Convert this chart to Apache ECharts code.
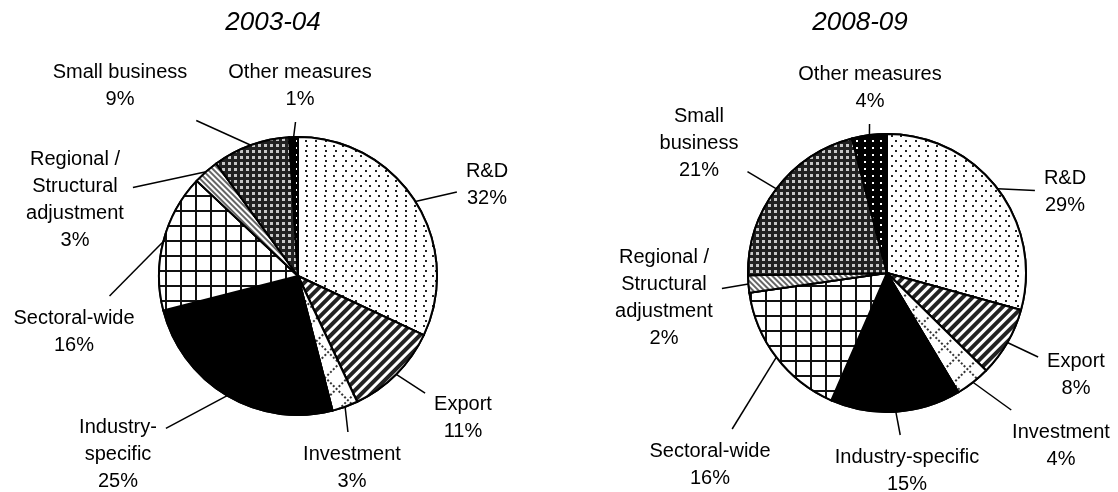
<!DOCTYPE html>
<html>
<head>
<meta charset="utf-8">
<script src="https://cdn.jsdelivr.net/npm/echarts@6/dist/echarts.min.js"></script>
<style>
    html, body { margin: 0; padding: 0; background: #fff; }
    #chart { width: 1118px; height: 492px; }
</style>
</head>
<body>
<div id="chart"></div>
<script>
// 数据
var categories = ['R&D', 'Export', 'Investment', 'Industry-specific', 'Sectoral-wide', 'Regional / Structural adjustment', 'Small business', 'Other measures'];
var years = ['2003-04', '2008-09'];
var values2003 = [32, 11, 3, 25, 16, 3, 9, 1];
var values2008 = [29, 8, 4, 15, 16, 2, 21, 4];
// 标签文字（换行不同）
var labels2003 = ['R&D', 'Export', 'Investment', 'Industry-\nspecific', 'Sectoral-wide', 'Regional /\nStructural\nadjustment', 'Small business', 'Other measures'];
var labels2008 = ['R&D', 'Export', 'Investment', 'Industry-specific', 'Sectoral-wide', 'Regional /\nStructural\nadjustment', 'Small\nbusiness', 'Other measures'];

// 标签位置（像素，中心点）
var labelPos = [
    [[487, 185], [463, 418], [352, 468], [118, 454], [74, 332], [75, 200], [120, 86], [300, 86]]
    , [[1065, 192], [1076, 375], [1061, 446], [907, 471], [710, 465], [664, 298], [699, 143], [870, 88]]
];
var lineGap = 9;

// 填充图案
var decals = [
    { symbol: 'rect', symbolSize: 1, symbolKeepAspect: false, color: '#222', backgroundColor: '#fff', dashArrayX: [[1.5, 7], [0, 4.25, 1.5, 2.75]], dashArrayY: [1.5, 2.5], rotation: 0 }
    , { symbol: 'rect', symbolSize: 1, symbolKeepAspect: false, color: '#222', backgroundColor: '#fff', dashArrayX: [1, 0], dashArrayY: [3.5, 2.5], rotation: -Math.PI / 4 }
    , { symbol: 'rect', symbolSize: 1, symbolKeepAspect: false, color: '#333', backgroundColor: '#fff', dashArrayX: [[1.5, 1.5], [1.5, 13.5], [1.5, 13.5], [1.5, 13.5], [1.5, 13.5]], dashArrayY: [1.5, 1.5], rotation: Math.PI / 4 }
    , { symbol: 'rect', symbolSize: 1, symbolKeepAspect: false, color: '#000', backgroundColor: '#000', dashArrayX: [1, 0], dashArrayY: [1, 0], rotation: 0 }
    , { symbol: 'rect', symbolSize: 1, symbolKeepAspect: false, color: '#111', backgroundColor: '#fff', dashArrayX: [[15, 0], [2, 13]], dashArrayY: [2, 0, 13, 0], rotation: 0 }
    , { symbol: 'rect', symbolSize: 1, symbolKeepAspect: false, color: '#666', backgroundColor: '#fff', dashArrayX: [1, 0], dashArrayY: [1.5, 2], rotation: Math.PI / 4 }
    , { symbol: 'rect', symbolSize: 1, symbolKeepAspect: false, color: '#c8c8c8', backgroundColor: '#222', dashArrayX: [2.2, 2.3], dashArrayY: [2.2, 2.3], rotation: 0 }
    , { symbol: 'rect', symbolSize: 1, symbolKeepAspect: false, color: '#fff', backgroundColor: '#000', dashArrayX: [2, 6], dashArrayY: [2, 5], rotation: 0 }
];

function buildData(values, labels) {
    var data = [];
    for (var i = 0; i < values.length; i++) {
        data.push({
            name: categories[i]
            , value: values[i]
            , labelText: labels[i]
            , itemStyle: { color: decals[i].backgroundColor, decal: decals[i] }
        });
    }
    return data;
}

// 引导线：从扇区外弧中点指向标签中心，在标签外停下
function leaderLine(start, pos, rect) {
    var dx = pos[0] - start[0], dy = pos[1] - start[1];
    var hw = rect.width / 2 + lineGap, hh = rect.height / 2 + lineGap;
    var k = Math.min(dx ? hw / Math.abs(dx) : Infinity, dy ? hh / Math.abs(dy) : Infinity);
    var t = 1 - k;
    if (t <= 0) return null;
    var end = [start[0] + dx * t, start[1] + dy * t];
    return [start, end, end];
}

function pieSeries(idx, center, values, labels) {
    return {
        type: 'pie'
        , center: center
        , radius: 139
        , startAngle: 90
        , clockwise: true
        , avoidLabelOverlap: false
        , silent: true
        , itemStyle: { borderColor: '#000', borderWidth: 2 }
        , label: {
            show: true
            , position: 'outside'
            , color: '#000'
            , fontFamily: 'Liberation Sans, Arial, sans-serif'
            , fontSize: 20
            , lineHeight: 27
            , align: 'center'
            , formatter: function (p) {
                return p.data.labelText + '\n' + p.value + '%';
            }
        }
        , labelLine: {
            show: true
            , length: 10
            , length2: 0
            , smooth: false
            , lineStyle: { color: '#000', width: 1.5 }
        }
        , labelLayout: function (params) {
            var p = labelPos[idx][params.dataIndex];
            var res = { x: p[0], y: p[1], align: 'center', verticalAlign: 'middle' };
            if (params.labelLinePoints) {
                var pts = leaderLine(params.labelLinePoints[0], p, params.labelRect);
                if (pts) res.labelLinePoints = pts;
            }
            return res;
        }
        , data: buildData(values, labels)
    };
}

var titleStyle = { fontFamily: 'Liberation Sans, Arial, sans-serif', fontStyle: 'italic', fontWeight: 'normal', fontSize: 26, color: '#000' };

var chart = echarts.init(document.getElementById('chart'));
var options = {
    backgroundColor: '#fff'
    , animation: false
    , title: [
        { text: years[0], left: 268, top: 5, textAlign: 'center', textStyle: titleStyle }
        , { text: years[1], left: 855, top: 5, textAlign: 'center', textStyle: titleStyle }
    ]
    , series: [
        pieSeries(0, [298, 276], values2003, labels2003)
        , pieSeries(1, [887, 273], values2008, labels2008)
    ]
};
chart.setOption(options);
</script>
</body>
</html>
